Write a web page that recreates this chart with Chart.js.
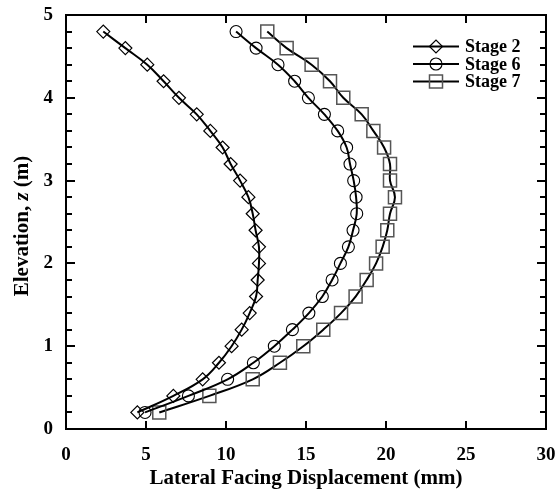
<!DOCTYPE html>
<html>
<head>
<meta charset="utf-8">
<script src="https://cdn.jsdelivr.net/npm/chart.js@4/dist/chart.umd.min.js"></script>
<style>
  html, body { margin: 0; padding: 0; background: #fff; }
  #wrap { width: 560px; height: 493px; }
</style>
</head>
<body>
<div id="wrap"><canvas id="chart"></canvas></div>
<script>
// elevation of each measuring point, z (m)
const elevations = [0.2, 0.4, 0.6, 0.8, 1.0, 1.2, 1.4, 1.6, 1.8, 2.0, 2.2, 2.4,
                    2.6, 2.8, 3.0, 3.2, 3.4, 3.6, 3.8, 4.0, 4.2, 4.4, 4.6, 4.8];

// lateral facing displacement (mm), read bottom to top
const stage2 = [4.46, 6.71, 8.54, 9.56, 10.35, 10.98, 11.48, 11.88, 11.98, 12.06, 12.06, 11.85,
                11.67, 11.40, 10.88, 10.29, 9.79, 9.02, 8.17, 7.06, 6.10, 5.08, 3.71, 2.33];
const stage6 = [4.94, 7.65, 10.10, 11.71, 13.02, 14.15, 15.18, 16.02, 16.63, 17.15, 17.65, 17.94,
                18.17, 18.13, 17.98, 17.75, 17.54, 16.98, 16.15, 15.15, 14.29, 13.25, 11.88, 10.63];
const stage7 = [5.83, 8.96, 11.67, 13.37, 14.83, 16.08, 17.19, 18.10, 18.79, 19.38, 19.79, 20.08,
                20.25, 20.56, 20.25, 20.25, 19.88, 19.21, 18.48, 17.33, 16.50, 15.35, 13.79, 12.58];

const seriesNames = ["Stage 2", "Stage 6", "Stage 7"];
const xTicks = [0, 5, 10, 15, 20, 25, 30];
const yTicks = [0, 1, 2, 3, 4, 5];

const FONT = "Liberation Serif";

function toPoints(values) {
    return values.map((v, i) => ({ x: v, y: elevations[i] }));
}

// frame with inward ticks, legend and y title (z in italic)
const framePlugin = {
    id: "frame",
    afterDatasetsDraw(chart) {
        const ctx = chart.ctx;
        const a = chart.chartArea;
        const xs = chart.scales.x;
        const ys = chart.scales.y;
        ctx.save();
        ctx.strokeStyle = "#000";
        ctx.lineWidth = 2;
        ctx.strokeRect(a.left, a.top, a.right - a.left, a.bottom - a.top);

        ctx.beginPath();
        xTicks.forEach(v => {
            const px = Math.round(xs.getPixelForValue(v));
            ctx.moveTo(px, a.bottom); ctx.lineTo(px, a.bottom - 8);
            ctx.moveTo(px, a.top); ctx.lineTo(px, a.top + 8);
        });
        for (let k = 0; k <= 25; k++) {
            const v = k / 5;
            const py = Math.round(ys.getPixelForValue(v));
            const len = (k % 5 === 0) ? 9 : 6;
            ctx.moveTo(a.left, py); ctx.lineTo(a.left + len, py);
            ctx.moveTo(a.right, py); ctx.lineTo(a.right - len, py);
        }
        ctx.stroke();

        // legend
        const rows = [46.5, 64, 81.5];
        chart.data.datasets.forEach((ds, i) => {
            const y = rows[i];
            ctx.strokeStyle = "#000";
            ctx.lineWidth = 2;
            ctx.beginPath();
            ctx.moveTo(413, y); ctx.lineTo(459, y);
            ctx.stroke();
            ctx.strokeStyle = ds.pointBorderColor;
            ctx.fillStyle = "rgba(0,0,0,0)";
            ctx.lineWidth = ds.pointBorderWidth;
            Chart.helpers.drawPoint(ctx, {
                pointStyle: ds.pointStyle,
                radius: ds.pointRadius,
                rotation: 0,
                borderWidth: ds.pointBorderWidth
            }, 436, y);
            ctx.fillStyle = "#000";
            ctx.font = "bold 18px " + FONT;
            ctx.textBaseline = "middle";
            ctx.textAlign = "left";
            ctx.fillText(ds.label, 465, y + 1);
        });

        // y axis title
        ctx.translate(28, 226);
        ctx.rotate(-Math.PI / 2);
        ctx.textBaseline = "alphabetic";
        ctx.textAlign = "left";
        const parts = [
            ["Elevation, ", "bold 21px " + FONT],
            ["z", "italic bold 21px " + FONT],
            [" (m)", "bold 21px " + FONT]
        ];
        let total = 0;
        parts.forEach(p => { ctx.font = p[1]; total += ctx.measureText(p[0]).width; });
        let x = -total / 2;
        parts.forEach(p => {
            ctx.font = p[1];
            ctx.fillText(p[0], x, 0);
            x += ctx.measureText(p[0]).width;
        });
        ctx.restore();
    }
};

new Chart(document.getElementById("chart"), {
    type: "line",
    data: {
        datasets: [
            {
                label: seriesNames[0],
                data: toPoints(stage2),
                borderColor: "#000",
                borderWidth: 2,
                tension: 0.4,
                pointStyle: "rectRot",
                pointRadius: 6.5,
                pointBorderColor: "#000",
                pointBackgroundColor: "rgba(0,0,0,0)",
                pointBorderWidth: 1.2
            },
            {
                label: seriesNames[1],
                data: toPoints(stage6),
                borderColor: "#000",
                borderWidth: 2,
                tension: 0.4,
                pointStyle: "circle",
                pointRadius: 6,
                pointBorderColor: "#000",
                pointBackgroundColor: "rgba(0,0,0,0)",
                pointBorderWidth: 1.1
            },
            {
                label: seriesNames[2],
                data: toPoints(stage7),
                borderColor: "#000",
                borderWidth: 2,
                tension: 0.4,
                pointStyle: "rect",
                pointRadius: 9.2,
                pointBorderColor: "#555",
                pointBackgroundColor: "rgba(0,0,0,0)",
                pointBorderWidth: 1.5
            }
        ]
    },
    options: {
        responsive: true,
        maintainAspectRatio: false,
        animation: false,
        layout: { padding: { left: 0, right: 14, top: 15, bottom: 0 } },
        plugins: {
            legend: { display: false },
            tooltip: { enabled: false }
        },
        scales: {
            x: {
                type: "linear",
                min: 0,
                max: 30,
                afterBuildTicks: s => { s.ticks = xTicks.map(v => ({ value: v })); },
                afterFit: s => {
                    s.height = 64;
                    s.paddingLeft = 0;
                    s.paddingRight = 0;
                },
                grid: { display: false, drawTicks: false },
                border: { display: false },
                ticks: {
                    color: "#000",
                    padding: 15,
                    maxRotation: 0,
                    font: { family: FONT, size: 19, weight: "bold" }
                },
                title: {
                    display: true,
                    text: "Lateral Facing Displacement (mm)",
                    color: "#000",
                    font: { family: FONT, size: 21, weight: "bold" },
                    padding: { top: 0, bottom: 2 }
                }
            },
            y: {
                type: "linear",
                min: 0,
                max: 5,
                afterBuildTicks: s => { s.ticks = yTicks.map(v => ({ value: v })); },
                afterFit: s => {
                    s.width = 66;
                    s.paddingTop = 0;
                    s.paddingBottom = 0;
                },
                grid: { display: false, drawTicks: false },
                border: { display: false },
                ticks: {
                    color: "#000",
                    padding: 13,
                    font: { family: FONT, size: 19, weight: "bold" }
                }
            }
        }
    },
    plugins: [framePlugin]
});
</script>
</body>
</html>
